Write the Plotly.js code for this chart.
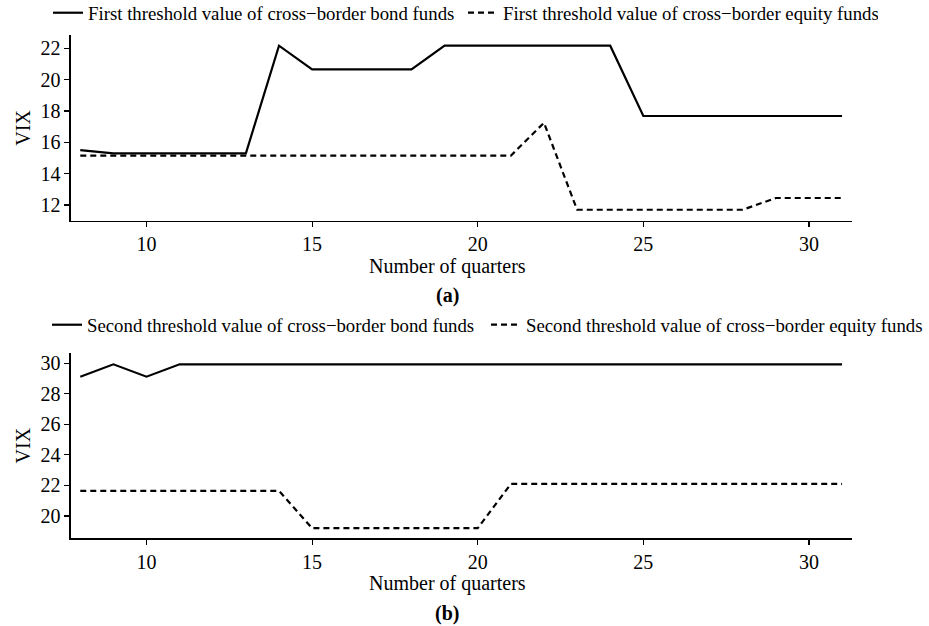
<!DOCTYPE html>
<html>
<head>
<meta charset="utf-8">
<script src="https://cdn.plot.ly/plotly-3.0.1.min.js"></script>
<style>
html,body{margin:0;padding:0;background:#fff;}
#chart{width:929px;height:626px;}
</style>
</head>
<body>
<div id="chart"></div>
<script>
var quarters = [8, 9, 10, 11, 12, 13, 14, 15, 16, 17, 18, 19, 20, 21, 22, 23, 24, 25, 26, 27, 28, 29, 30, 31];

var firstBond = [15.5, 15.3, 15.3, 15.3, 15.3, 15.3, 22.17, 20.66, 20.66, 20.66, 20.66, 22.17, 22.17, 22.17, 22.17, 22.17, 22.17, 17.68, 17.68, 17.68, 17.68, 17.68, 17.68, 17.68];
var firstEquity = [15.15, 15.15, 15.15, 15.15, 15.15, 15.15, 15.15, 15.15, 15.15, 15.15, 15.15, 15.15, 15.15, 15.15, 17.25, 11.7, 11.7, 11.7, 11.7, 11.7, 11.7, 12.45, 12.45, 12.45];

var secondBond = [29.12, 29.93, 29.12, 29.93, 29.93, 29.93, 29.93, 29.93, 29.93, 29.93, 29.93, 29.93, 29.93, 29.93, 29.93, 29.93, 29.93, 29.93, 29.93, 29.93, 29.93, 29.93, 29.93, 29.93];
var secondEquity = [21.65, 21.65, 21.65, 21.65, 21.65, 21.65, 21.65, 19.2, 19.2, 19.2, 19.2, 19.2, 19.2, 22.1, 22.1, 22.1, 22.1, 22.1, 22.1, 22.1, 22.1, 22.1, 22.1, 22.1];

var xTicks = [10, 15, 20, 25, 30];
var yTicksA = [12, 14, 16, 18, 20, 22];
var yTicksB = [20, 22, 24, 26, 28, 30];

var names = {
  a1: 'First threshold value of cross\u2212border bond funds',
  a2: 'First threshold value of cross\u2212border equity funds',
  b1: 'Second threshold value of cross\u2212border bond funds',
  b2: 'Second threshold value of cross\u2212border equity funds'
};
var xTitle = 'Number of quarters';
var yTitle = 'VIX';

var FONT = 'Liberation Serif';
var W = 929, H = 626;
function px(x){ return x / W; }
function py(y){ return (H - y) / H; }

var traces = [
  {x: quarters, y: firstBond, name: names.a1, type: 'scatter', mode: 'lines',
   line: {color: '#000', width: 2.2, dash: 'solid'}, xaxis: 'x', yaxis: 'y', legend: 'legend'},
  {x: quarters, y: firstEquity, name: names.a2, type: 'scatter', mode: 'lines',
   line: {color: '#000', width: 2.2, dash: '6px,4px'}, xaxis: 'x', yaxis: 'y', legend: 'legend'},
  {x: quarters, y: secondBond, name: names.b1, type: 'scatter', mode: 'lines',
   line: {color: '#000', width: 2.2, dash: 'solid'}, xaxis: 'x2', yaxis: 'y2', legend: 'legend2'},
  {x: quarters, y: secondEquity, name: names.b2, type: 'scatter', mode: 'lines',
   line: {color: '#000', width: 2.2, dash: '6px,4px'}, xaxis: 'x2', yaxis: 'y2', legend: 'legend2'}
];

var axisCommon = {
  showgrid: false, zeroline: false, showline: true, linecolor: '#000', linewidth: 1.6,
  ticks: 'outside', ticklen: 5, tickwidth: 1.2, tickcolor: '#000',
  tickfont: {family: FONT, size: 20, color: '#000'}, fixedrange: true
};

function xAxis(anchor){
  return Object.assign({}, axisCommon, {
    domain: [px(71), px(852)], range: [7.72, 31.3], anchor: anchor,
    tickmode: 'array', tickvals: xTicks, ticktext: xTicks.map(String)
  });
}
function yAxis(anchor, dom, rng, tv){
  return Object.assign({}, axisCommon, {
    domain: dom, range: rng, anchor: anchor,
    tickmode: 'array', tickvals: tv, ticktext: tv.map(String),
    title: {text: yTitle, font: {family: FONT, size: 20, color: '#000'}, standoff: 4}
  });
}

var legendCommon = {
  orientation: 'h', xanchor: 'left', bgcolor: 'rgba(0,0,0,0)',
  font: {family: FONT, size: 18.8, color: '#000'}, itemclick: false, itemdoubleclick: false,
  tracegroupgap: 0, itemwidth: 30
};

var layout = {
  width: W, height: H,
  margin: {l: 0, r: 0, t: 0, b: 0, autoexpand: false},
  paper_bgcolor: '#fff', plot_bgcolor: '#fff',
  showlegend: true,
  font: {family: FONT, color: '#000'},
  xaxis: xAxis('y'),
  yaxis: yAxis('x', [py(220.7), py(35)], [11.0, 22.85], yTicksA),
  xaxis2: xAxis('y2'),
  yaxis2: yAxis('x2', [py(538), py(353.3)], [18.56, 30.65], yTicksB),
  legend: Object.assign({}, legendCommon, {x: px(48), y: py(13), yanchor: 'middle', entrywidth: 370}),
  legend2: Object.assign({}, legendCommon, {x: px(47), y: py(325), yanchor: 'middle', entrywidth: 394}),
  annotations: [
    {text: xTitle, xref: 'paper', yref: 'paper', x: px(447), y: py(266), xanchor: 'center', yanchor: 'middle',
     showarrow: false, font: {family: FONT, size: 20, color: '#000'}},
    {text: '<b>(a)</b>', xref: 'paper', yref: 'paper', x: px(447), y: py(295), xanchor: 'center', yanchor: 'middle',
     showarrow: false, font: {family: FONT, size: 20, color: '#000'}},
    {text: xTitle, xref: 'paper', yref: 'paper', x: px(447), y: py(583), xanchor: 'center', yanchor: 'middle',
     showarrow: false, font: {family: FONT, size: 20, color: '#000'}},
    {text: '<b>(b)</b>', xref: 'paper', yref: 'paper', x: px(447), y: py(613), xanchor: 'center', yanchor: 'middle',
     showarrow: false, font: {family: FONT, size: 20, color: '#000'}}
  ]
};

Plotly.newPlot('chart', traces, layout, {displayModeBar: false, staticPlot: true});
</script>
</body>
</html>
